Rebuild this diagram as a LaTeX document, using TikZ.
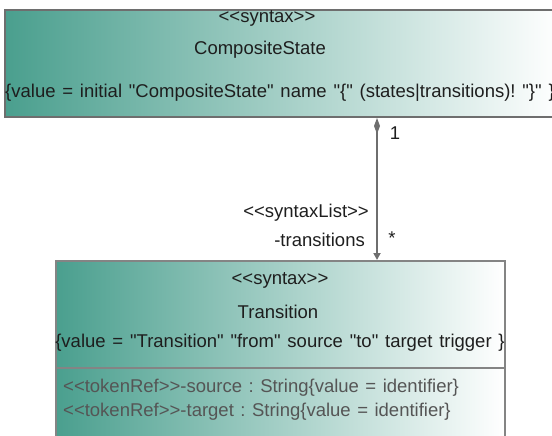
\documentclass[tikz,border=0pt]{standalone}
\usepackage{fontspec}
\setmainfont{Liberation Sans}[Ligatures=TeXOff]
\usetikzlibrary{arrows.meta}
\definecolor{teal1}{RGB}{74,159,142}
\definecolor{bordergrey}{RGB}{110,110,110}
\definecolor{txt}{RGB}{30,30,30}
\definecolor{attr}{RGB}{85,85,85}
\newcommand\widespaces[1]{\spaceskip=#1\relax}
\tikzset{
  classbox/.style={draw=bordergrey, line width=2pt, left color=teal1, right color=white, rectangle, inner sep=0pt},
  lbl/.style={font=\fontsize{18.5}{21}\selectfont\frenchspacing, text=txt, inner sep=0pt},
  wide/.style={font=\fontsize{18.5}{21}\selectfont\frenchspacing\widespaces{6.8pt}},
  attrlbl/.style={font=\fontsize{18.5}{21}\selectfont\frenchspacing\widespaces{6.5pt}, text=attr, inner sep=0pt, anchor=west},
  conn/.style={draw=bordergrey, line width=2pt}
}
\begin{document}
\begin{tikzpicture}[x=1pt,y=-1pt]
\useasboundingbox (0,0) rectangle (552,436);
\clip (0,0) rectangle (552,436);
\node[classbox, minimum width=555pt, minimum height=107pt] (top) at (282.5,63.5) {};
\node[classbox, draw=bordergrey!85, minimum width=449pt, minimum height=184pt] (bot) at (280.5,353) {};
\draw[draw=bordergrey!85, line width=2pt] (bot.west |- 0,368) coordinate (sepl) -- (bot.east |- sepl);
\node[lbl] (t1) at (267,18) {<<syntax>>};
\node[lbl] (t2) at (260,50) {CompositeState};
\node[lbl, wide, anchor=west] (t3) at (5,93) {\{value = initial "CompositeState" name "\{" (states|transitions)! "\}" \}};
\node[lbl] (b1) at (280,280) {<<syntax>>};
\node[lbl] (b2) at (278,312) {Transition};
\node[lbl, wide] (b3) at (280,343) {\{value = "Transition" "from" source "to" target trigger \}};
\node[attrlbl] (a1) at (63,388) {<<tokenRef>>-source : String\{value = identifier\}};
\node[attrlbl] (a2) at (63,412) {<<tokenRef>>-target : String\{value = identifier\}};
\coordinate (cx) at (377,0);
\draw[conn, {Diamond[length=16pt,width=6pt,fill=bordergrey]}-{Triangle[length=7pt,width=7pt]}] (top.south -| cx) -- (bot.north -| cx);
\node[lbl] (m1) at (395,133) {1};
\node[lbl] (m2) at (392,238) {*};
\node[lbl, anchor=east] (r1) at (369,213) {<<syntaxList>>};
\node[lbl, anchor=east] (r2) at (365,240) {-transitions};
\end{tikzpicture}
\end{document}
